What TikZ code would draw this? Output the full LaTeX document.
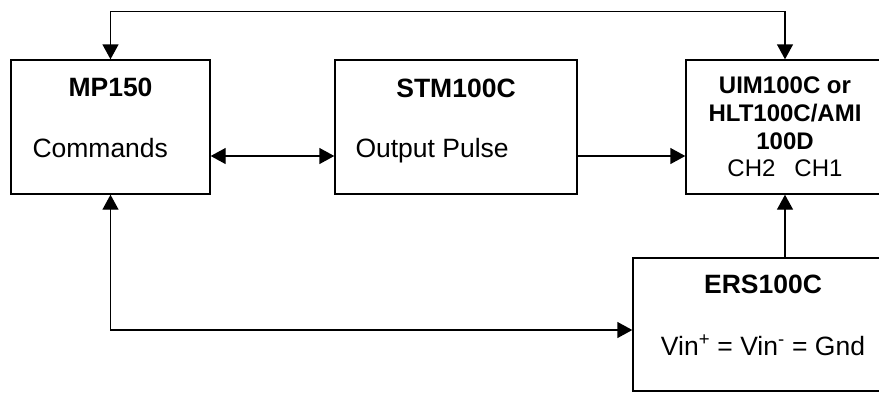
\documentclass[tikz,border=0pt]{standalone}
\usepackage{fontspec}
\setmainfont{Liberation Sans}
\usetikzlibrary{arrows.meta,positioning}

\begin{document}
\begin{tikzpicture}[x=1pt, y=1pt,
    block/.style={draw, rectangle, line width=1.4pt, inner sep=0pt},
    blocktitle/.style={font=\fontsize{26.5}{30}\selectfont\bfseries, inner sep=0pt, anchor=base},
    blocktext/.style={font=\fontsize{26.5}{30}\selectfont, inner sep=0pt},
    link/.style={line width=1.4pt, -{Triangle[length=15pt, width=16pt]}},
    twolink/.style={line width=1.4pt, {Triangle[length=15pt, width=16pt]}-{Triangle[length=15pt, width=16pt]}}]
    \clip (0,0) rectangle (879,-392);

    % Blocks
    \node[block, minimum width=199pt, minimum height=134pt] (mp) at (110.5,-127) {};
    \node[block, minimum width=242pt, minimum height=134pt] (stm) at (456,-127) {};
    \node[block, minimum width=198pt, minimum height=134pt, align=center,
          font=\fontsize{24}{27.7}\selectfont] (uim) at (785,-127)
          {\textbf{UIM100C or}\\\textbf{HLT100C/AMI}\\\textbf{100D}\\CH2\hspace{19pt}CH1};
    \node[block, minimum width=260pt, minimum height=133pt] (ers) at (763,-324.5) {};

    % Block texts
    \node[blocktitle] (mptitle) at ([yshift=31pt]mp.center) {MP150};
    \node[blocktext, anchor=base west] (mpcmd) at ([xshift=22pt, yshift=-30pt]mp.west) {Commands};
    \node[blocktitle] (stmtitle) at ([yshift=30pt]stm.center) {STM100C};
    \node[blocktext, anchor=base west] (stmout) at ([xshift=21pt, yshift=-30pt]stm.west) {Output Pulse};
    \node[blocktitle] (erstitle) at ([yshift=31.5pt]ers.center) {ERS100C};
    \node[blocktext, anchor=base] (ersvin) at ([yshift=-30.5pt]ers.center) {Vin\textsuperscript{+} = Vin\textsuperscript{-} = Gnd};

    % Connections
    \draw[twolink] (mp.north) -- ++(0,48) -| (uim.north);
    \draw[twolink] ([yshift=-29pt]mp.east) -- ([yshift=-29pt]stm.west);
    \draw[link] ([yshift=-29pt]stm.east) -- ([yshift=-29pt]uim.west);
    \draw[link] (uim.south |- ers.north) -- (uim.south);
    \draw[twolink] (mp.south) |- ([yshift=-5.5pt]ers.west);
\end{tikzpicture}
\end{document}
